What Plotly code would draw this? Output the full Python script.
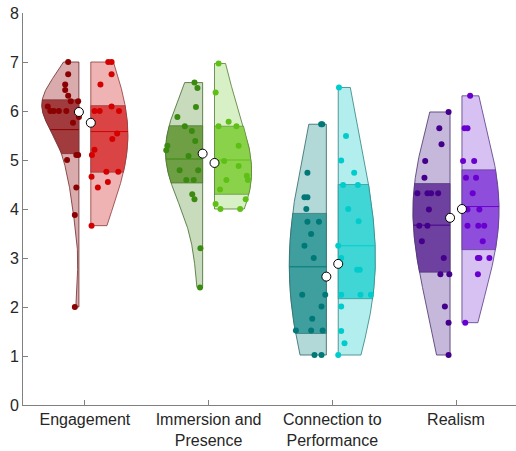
import numpy as np
import plotly.graph_objects as go

categories = ["Engagement", "Immersion and<br>Presence", "Connection to<br>Performance", "Realism"]

# values (left half = darker, right half = lighter)
eng_left = [7.0, 6.75, 6.54, 6.43, 6.31, 6.2, 6.2, 6.09, 6.0, 6.0, 6.0, 6.0, 5.88, 5.76, 5.1, 5.1, 5.0, 4.44, 3.88, 2.0]
eng_left_jit = [.29, .29, .37, .37, .29, .22, .02, .84, .77, .68, .54, .34, 0, .16, .07, .02, .32, .07, .11, .11]
eng_right = [7.0, 7.0, 6.75, 6.54, 6.09, 6.0, 6.0, 6.0, 5.54, 5.43, 5.21, 5.1, 4.76, 4.76, 4.66, 4.55, 4.44, 3.66]
eng_right_jit = [.47, .56, .56, .26, .56, .10, .24, .76, .71, .58, .10, .03, .74, .42, .02, .46, .19, .02]

imm_left = [6.58, 6.47, 6.08, 5.88, 5.69, 5.59, 5.39, 5.29, 5.2, 5.08, 4.79, 4.79, 4.59, 4.59, 4.3, 4.2, 3.2, 2.4]
imm_left_jit = [.22, .14, .18, .68, .48, .29, .2, .95, .98, .38, .62, .12, .44, .24, .28, .22, .06, .07]
imm_right = [6.97, 6.38, 5.78, 5.69, 5.69, 5.29, 4.98, 4.88, 4.68, 4.59, 4.59, 4.4, 4.2, 4.1, 4.0, 4.0]
imm_right_jit = [.11, .03, .38, .11, .59, .65, .26, .65, .87, .32, .9, .15, .84, .03, .16, .69]

con_left = [5.73, 5.73, 4.74, 4.24, 4.24, 4.0, 3.74, 3.74, 3.49, 3.25, 3.0, 2.25, 2.25, 2.01, 1.76, 1.52, 1.52, 1.52, 1.02, 1.02]
con_left_jit = [.11, .14, .51, .59, .51, .54, .51, .2, .41, .59, .34, .65, .03, .13, .38, .82, .41, .1, .32, .13]
con_right = [6.48, 5.49, 4.99, 4.74, 4.49, 4.49, 4.0, 3.75, 3.25, 3.0, 2.76, 2.76, 2.25, 2.25, 2.25, 2.01, 1.51, 1.26, 1.02]
con_right_jit = [.02, .21, .08, .43, .13, .53, .27, .55, 0, .08, .51, .58, .08, .6, .88, .08, .08, .17, 0]

rea_left = [5.98, 5.65, 5.32, 4.98, 4.64, 4.32, 4.32, 4.32, 4.32, 3.99, 3.66, 3.66, 3.34, 3.0, 2.67, 2.67, 2.01, 1.68, 1.02]
rea_left_jit = [.04, .29, .23, .67, .69, .88, .61, .51, .32, .57, .83, .61, .76, .17, .26, .02, .14, .04, .04]
rea_right = [6.31, 5.65, 5.65, 4.98, 4.98, 4.64, 4.64, 4.32, 3.99, 3.99, 3.66, 3.66, 3.66, 3.34, 3.0, 3.0, 3.0, 2.67, 1.68]
rea_right_jit = [.22, .07, .15, .03, .33, .11, .38, .29, .15, .47, .15, .44, .6, .56, .43, .47, .74, .43, .09]

# summary statistics: [eng, imm, con, rea]
left_q1 = [5.13, 4.53, 1.46, 2.71]
left_mid = [5.62, 5.02, 2.82, 3.67]
left_q3 = [6.23, 5.70, 3.91, 4.52]
left_dot = [5.98, 5.13, 2.62, 3.82]
right_q1 = [4.75, 4.30, 2.17, 3.17]
right_mid = [5.58, 5.00, 3.25, 4.05]
right_q3 = [6.11, 5.69, 4.50, 4.80]
right_dot = [5.76, 4.94, 2.88, 4.00]

left_data = [eng_left, imm_left, con_left, rea_left]
left_jit = [eng_left_jit, imm_left_jit, con_left_jit, rea_left_jit]
right_data = [eng_right, imm_right, con_right, rea_right]
right_jit = [eng_right_jit, imm_right_jit, con_right_jit, rea_right_jit]

# colours: (points, light fill, dark band, outline)
left_cols = [("#8B0000", "#D9ABAC", "#A23B3D", "#6E2A2A"),
             ("#3A8A10", "#C8DBBC", "#6E9F44", "#3F6A28"),
             ("#007878", "#B3D8D8", "#3F9F9F", "#2A6464"),
             ("#44008A", "#C6B8DA", "#6E40A0", "#47306A")]
right_cols = [("#D40000", "#F0B3B3", "#DB4444", "#8A3A3A"),
              ("#5EC015", "#D8F0C5", "#8BD24B", "#4F7A30"),
              ("#00CCCC", "#B3EEEE", "#40D6D6", "#2F8080"),
              ("#6A00D0", "#D6C1F2", "#8E4DDB", "#553A80")]

GAP = 0.048
HALF_W = 0.30
BW_SCALE = 1.6


def kde(vals, grid):
    x = np.asarray(vals, float)
    n = len(x)
    sig = np.median(np.abs(x - np.median(x))) / 0.6745
    if sig <= 0:
        sig = np.std(x)
    h = BW_SCALE * sig * (4.0 / (3.0 * n)) ** 0.2
    return np.exp(-0.5 * ((grid[:, None] - x[None, :]) / h) ** 2).sum(1)


fig = go.Figure()

for side in ("left", "right"):
    datas = left_data if side == "left" else right_data
    jits = left_jit if side == "left" else right_jit
    cols = left_cols if side == "left" else right_cols
    q1s = left_q1 if side == "left" else right_q1
    q3s = left_q3 if side == "left" else right_q3
    mids = left_mid if side == "left" else right_mid
    dots = left_dot if side == "left" else right_dot
    sgn = -1 if side == "left" else 1
    for i, vals in enumerate(datas):
        c = i + 1
        edge = c + sgn * GAP
        lo, hi = min(vals), max(vals)
        grid = np.linspace(lo, hi, 300)
        d = kde(vals, grid)
        dmax = d.max()

        def width_at(y):
            return HALF_W * kde(vals, np.atleast_1d(np.asarray(y, float))) / dmax

        w = HALF_W * d / dmax
        xs = np.concatenate([[edge] * len(grid), edge + sgn * w[::-1], [edge]])
        ys = np.concatenate([grid, grid[::-1], [grid[0]]])
        pc, light, dark, mcol = cols[i]
        fig.add_trace(go.Scatter(x=xs, y=ys, mode="lines", fill="toself", fillcolor=light,
                                 line=dict(color=mcol, width=0.8), hoverinfo="skip", showlegend=False))
        # IQR band
        g2 = np.linspace(q1s[i], q3s[i], 150)
        w2 = width_at(g2)
        xs2 = np.concatenate([[edge] * len(g2), edge + sgn * w2[::-1], [edge]])
        ys2 = np.concatenate([g2, g2[::-1], [g2[0]]])
        fig.add_trace(go.Scatter(x=xs2, y=ys2, mode="lines", fill="toself", fillcolor=dark,
                                 line=dict(color=mcol, width=0.6), hoverinfo="skip", showlegend=False))
        # middle line
        wm = width_at(mids[i])[0]
        fig.add_trace(go.Scatter(x=[edge, edge + sgn * wm], y=[mids[i], mids[i]], mode="lines",
                                 line=dict(color=pc, width=1), hoverinfo="skip", showlegend=False))
        # points
        vx = [edge + sgn * j * HALF_W for j in jits[i]]
        fig.add_trace(go.Scatter(x=vx, y=vals, mode="markers",
                                 marker=dict(color=pc, size=6, line=dict(width=0)),
                                 hoverinfo="skip", showlegend=False))
        # centre marker
        fig.add_trace(go.Scatter(x=[edge], y=[dots[i]], mode="markers",
                                 marker=dict(color="white", size=9, line=dict(color="black", width=1)),
                                 hoverinfo="skip", showlegend=False))

axis_font = dict(family="Liberation Sans, Arial, sans-serif", size=16, color="#262626")
fig.update_layout(
    width=516, height=451,
    margin=dict(l=23, r=0, t=13, b=46),
    paper_bgcolor="white", plot_bgcolor="white",
    font=axis_font,
    xaxis=dict(range=[0.5, 4.485], tickvals=[1, 2, 3, 4], ticktext=categories,
               showline=True, linecolor="#808080", linewidth=1, ticks="inside", ticklen=5,
               tickcolor="#808080", showgrid=False, zeroline=False, tickfont=axis_font,
               automargin=False),
    yaxis=dict(range=[0, 8], tickvals=list(range(9)), showline=True, linecolor="#808080",
               linewidth=1, ticks="inside", ticklen=5, tickcolor="#808080", showgrid=False,
               zeroline=False, tickfont=axis_font, automargin=False),
)

fig.write_html("out.html", config={"displayModeBar": False},
               post_script="document.body.style.margin='0';document.body.style.overflow='hidden';")
